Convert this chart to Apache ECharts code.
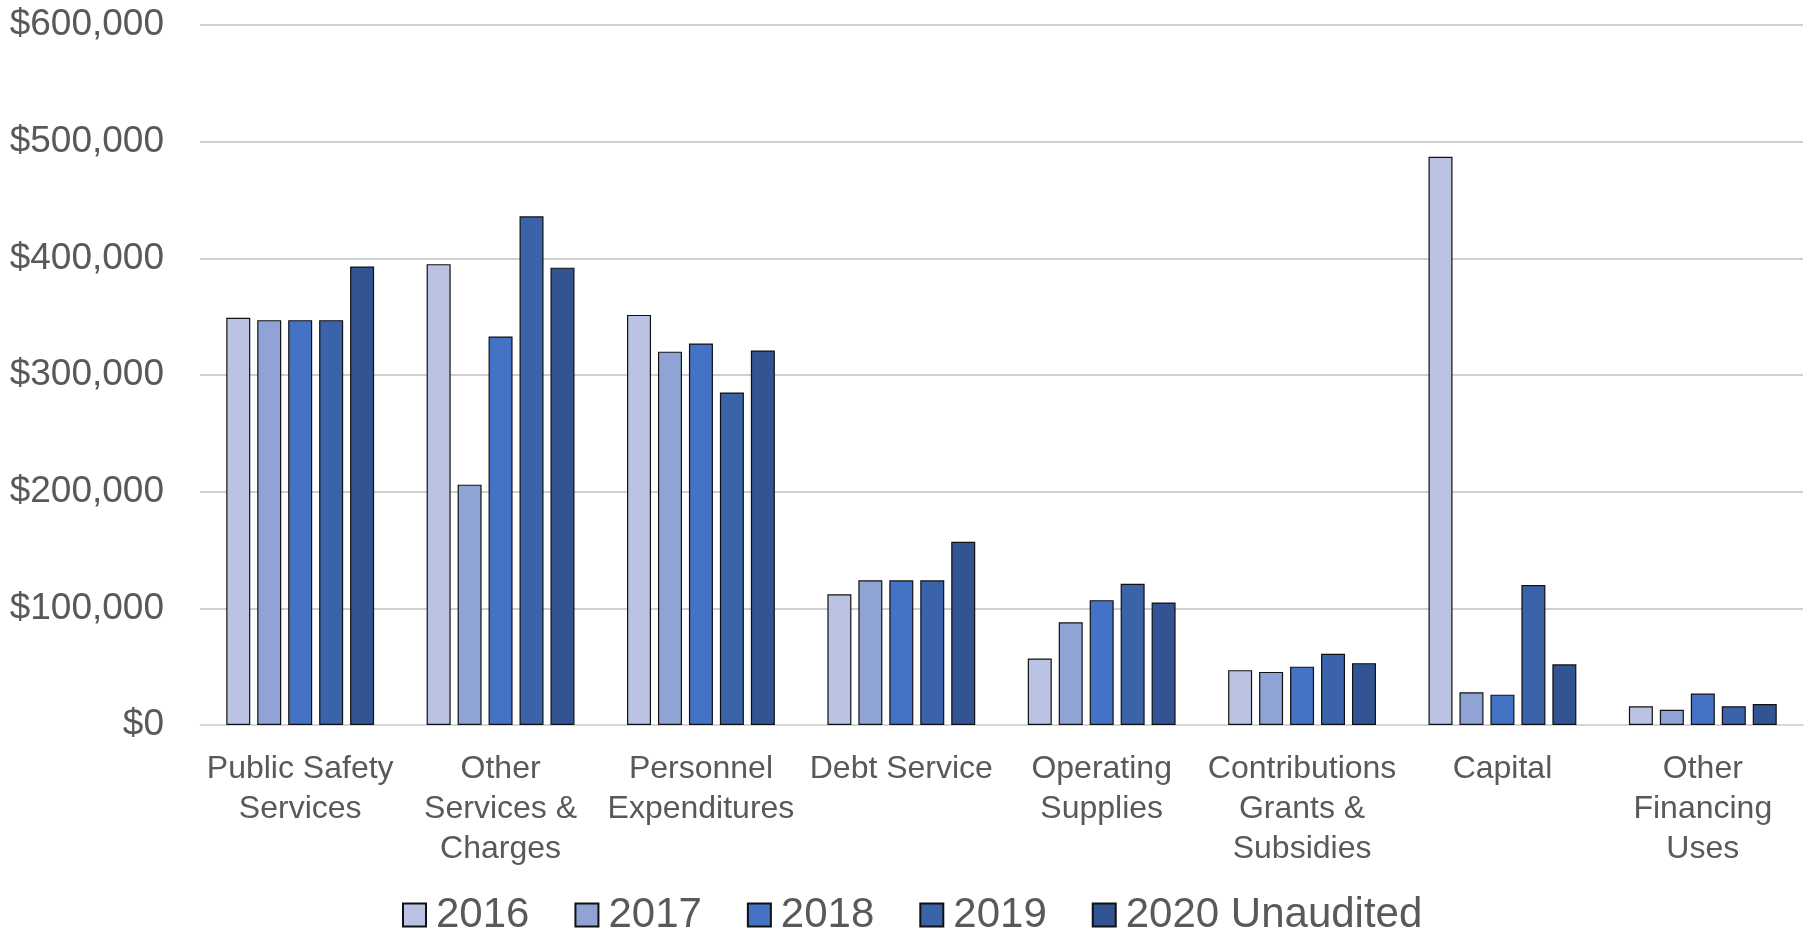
<!DOCTYPE html>
<html>
<head>
<meta charset="utf-8">
<script src="https://cdn.jsdelivr.net/npm/echarts@6/dist/echarts.min.js"></script>
<style>
  html, body { margin: 0; padding: 0; background: #ffffff; }
  #chart { width: 1810px; height: 931px; }
</style>
</head>
<body>
<div id="chart"></div>
<script>
// Expenditure categories shown along the x axis
const categories = [
  'Public Safety\nServices',
  'Other\nServices &\nCharges',
  'Personnel\nExpenditures',
  'Debt Service',
  'Operating\nSupplies',
  'Contributions\nGrants &\nSubsidies',
  'Capital',
  'Other\nFinancing\nUses'
];

// Annual spending per category (dollars)
const y2016 = [349000, 395000, 351500, 112000, 57000, 47000, 487000, 16000];
const y2017 = [347000, 206000, 320000, 124000, 88000, 45500, 28000, 13000];
const y2018 = [347000, 333000, 327000, 124000, 107000, 50000, 26000, 27000];
const y2019 = [347000, 436000, 285000, 124000, 121000, 61000, 120000, 16000];
const y2020 = [393000, 392000, 321000, 157000, 105000, 53000, 52000, 18000];

const seriesNames = ['2016', '2017', '2018', '2019', '2020 Unaudited'];
const seriesColors = ['#BAC3E3', '#8FA4D4', '#4472C4', '#3B63AA', '#325492'];
const seriesValues = [y2016, y2017, y2018, y2019, y2020];

const FONT = '"Liberation Sans", Arial, sans-serif';
const TEXT = '#595959';

const chart = echarts.init(document.getElementById('chart'), null, { renderer: 'canvas' });

const fmtMoney = v => '$' + Math.round(v).toString().replace(/\B(?=(\d{3})+(?!\d))/g, ',');

chart.setOption({
  animation: false,
  backgroundColor: '#ffffff',
  textStyle: { fontFamily: FONT },
  grid: { left: 200, right: 7, top: 25, bottom: 206, containLabel: false },
  legend: {
    data: seriesNames,
    left: 397,
    top: 889,
    itemWidth: 23,
    itemHeight: 23,
    itemGap: 45,
    icon: 'rect',
    textStyle: {
      fontFamily: FONT,
      fontSize: 42,
      lineHeight: 42,
      color: TEXT,
      padding: [0, 0, 0, 5]
    }
  },
  xAxis: {
    type: 'category',
    data: categories,
    axisLine: { show: true, lineStyle: { color: '#D9D9D9', width: 1.5 } },
    axisTick: { show: false },
    axisLabel: {
      interval: 0,
      margin: 24,
      fontFamily: FONT,
      fontSize: 32,
      lineHeight: 40,
      color: TEXT,
      align: 'center'
    }
  },
  yAxis: {
    type: 'value',
    min: 0,
    max: 600000,
    interval: 100000,
    axisLine: { show: false },
    axisTick: { show: false },
    splitLine: { lineStyle: { color: '#BFBFBF', width: 1.5 } },
    axisLabel: {
      margin: 36,
      fontFamily: FONT,
      fontSize: 37,
      color: TEXT,
      formatter: fmtMoney
    }
  },
  series: seriesNames.map((name, i) => ({
    name: name,
    type: 'bar',
    data: seriesValues[i],
    barWidth: 24,
    barGap: '29%',
    itemStyle: {
      color: seriesColors[i],
      borderColor: '#111111',
      borderWidth: 1.2
    }
  }))
});
</script>
</body>
</html>
